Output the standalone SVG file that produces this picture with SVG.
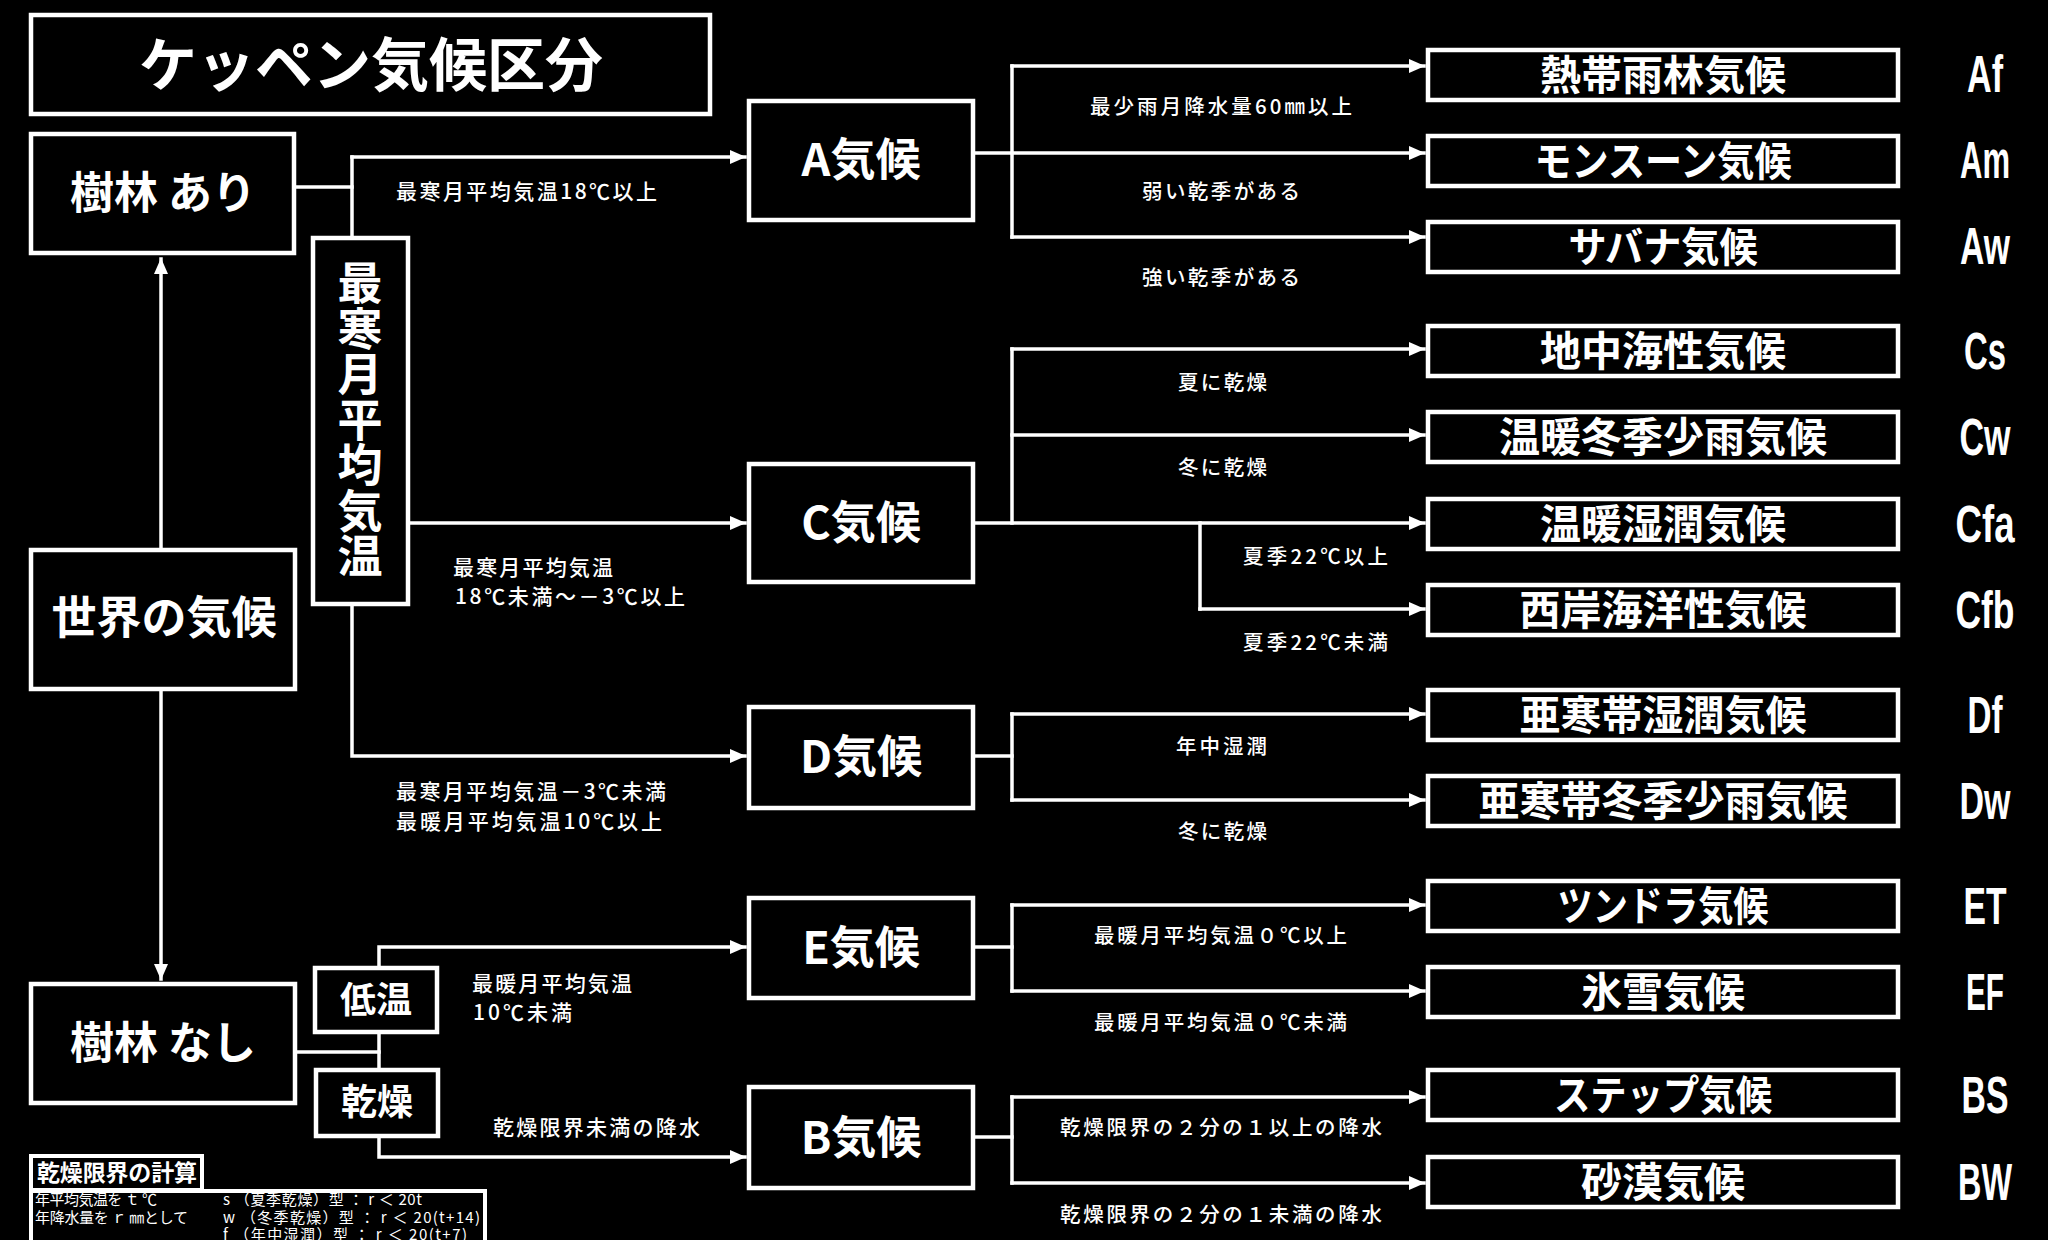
<svg xmlns="http://www.w3.org/2000/svg" width="2048" height="1240" viewBox="0 0 2048 1240">
<style>
.bx{fill:#000;stroke:#fff;stroke-width:4.5}
.bs{fill:#000;stroke:#fff;stroke-width:4}
.cn{fill:none;stroke:#fff;stroke-width:3.5;stroke-linecap:square;stroke-linejoin:miter}
.jp{font-family:'Noto Sans CJK JP','Noto Sans CJK SC',sans-serif;fill:#fff}
.nb{font-weight:700;text-anchor:middle}
.lbl{font-size:20.5px;font-weight:500}
.lb2{font-size:21px;font-weight:500}
.code{font-family:'Liberation Sans',Arial,sans-serif;font-weight:700;font-size:51px;fill:#fff;text-anchor:middle}
.sm{font-size:15px}
</style>
<defs>
<marker id="ah" viewBox="0 0 16 14" refX="15" refY="7" markerWidth="16" markerHeight="14" markerUnits="userSpaceOnUse" orient="auto">
<path d="M0,0 L16,7 L0,14 z" fill="#fff"/>
</marker>
</defs>
<rect x="0" y="0" width="2048" height="1240" fill="#000"/>

<g id="connectors">
<line class="cn" x1="296" y1="187" x2="352" y2="187"/>
<line class="cn" x1="352" y1="157" x2="352" y2="238"/>
<line class="cn" x1="352" y1="157" x2="745" y2="157" marker-end="url(#ah)"/>
<line class="cn" x1="409" y1="523" x2="745" y2="523" marker-end="url(#ah)"/>
<polyline class="cn" points="352,604 352,756 745,756" marker-end="url(#ah)"/>
<line class="cn" x1="161" y1="548" x2="161" y2="259" marker-end="url(#ah)"/>
<line class="cn" x1="161" y1="690" x2="161" y2="979" marker-end="url(#ah)"/>
<line class="cn" x1="296" y1="1052" x2="379" y2="1052"/>
<line class="cn" x1="379" y1="1033" x2="379" y2="1068"/>
<polyline class="cn" points="379,966 379,947 745,947" marker-end="url(#ah)"/>
<polyline class="cn" points="379,1137 379,1157 745,1157" marker-end="url(#ah)"/>

<line class="cn" x1="974" y1="153" x2="1424" y2="153" marker-end="url(#ah)"/>
<line class="cn" x1="1012" y1="66" x2="1012" y2="237"/>
<line class="cn" x1="1012" y1="66" x2="1424" y2="66" marker-end="url(#ah)"/>
<line class="cn" x1="1012" y1="237" x2="1424" y2="237" marker-end="url(#ah)"/>

<line class="cn" x1="1012" y1="349" x2="1012" y2="523"/>
<line class="cn" x1="1012" y1="349" x2="1424" y2="349" marker-end="url(#ah)"/>
<line class="cn" x1="1012" y1="435" x2="1424" y2="435" marker-end="url(#ah)"/>
<line class="cn" x1="974" y1="523" x2="1424" y2="523" marker-end="url(#ah)"/>
<line class="cn" x1="1200" y1="523" x2="1200" y2="609"/>
<line class="cn" x1="1200" y1="609" x2="1424" y2="609" marker-end="url(#ah)"/>

<line class="cn" x1="974" y1="756" x2="1012" y2="756"/>
<line class="cn" x1="1012" y1="714" x2="1012" y2="800"/>
<line class="cn" x1="1012" y1="714" x2="1424" y2="714" marker-end="url(#ah)"/>
<line class="cn" x1="1012" y1="800" x2="1424" y2="800" marker-end="url(#ah)"/>

<line class="cn" x1="974" y1="947" x2="1012" y2="947"/>
<line class="cn" x1="1012" y1="905" x2="1012" y2="991"/>
<line class="cn" x1="1012" y1="905" x2="1424" y2="905" marker-end="url(#ah)"/>
<line class="cn" x1="1012" y1="991" x2="1424" y2="991" marker-end="url(#ah)"/>

<line class="cn" x1="974" y1="1137" x2="1012" y2="1137"/>
<line class="cn" x1="1012" y1="1097" x2="1012" y2="1183"/>
<line class="cn" x1="1012" y1="1097" x2="1424" y2="1097" marker-end="url(#ah)"/>
<line class="cn" x1="1012" y1="1183" x2="1424" y2="1183" marker-end="url(#ah)"/>
</g>

<g id="labels" class="jp">
<text class="lb2" x="396" y="199" textLength="261">最寒月平均気温18℃以上</text>
<text class="lb2" x="453" y="575" textLength="160">最寒月平均気温</text>
<text class="lb2" x="455" y="604" textLength="230">18℃未満～－3℃以上</text>
<text class="lb2" x="396" y="799" textLength="270">最寒月平均気温－3℃未満</text>
<text class="lb2" x="396" y="829" textLength="266">最暖月平均気温10℃以上</text>
<text class="lb2" x="472" y="991" textLength="160">最暖月平均気温</text>
<text class="lb2" x="473" y="1020" textLength="99">10℃未満</text>
<text class="lb2" x="493" y="1135" textLength="207">乾燥限界未満の降水</text>

<text class="lbl" x="1090" y="114" textLength="262">最少雨月降水量60㎜以上</text>
<text class="lbl" x="1142" y="199" textLength="158">弱い乾季がある</text>
<text class="lbl" x="1142" y="285" textLength="158">強い乾季がある</text>
<text class="lbl" x="1178" y="390" textLength="89">夏に乾燥</text>
<text class="lbl" x="1178" y="475" textLength="89">冬に乾燥</text>
<text class="lbl" x="1243" y="564" textLength="145">夏季22℃以上</text>
<text class="lbl" x="1243" y="650" textLength="145">夏季22℃未満</text>
<text class="lbl" x="1176" y="754" textLength="91">年中湿潤</text>
<text class="lbl" x="1178" y="839" textLength="89">冬に乾燥</text>
<text class="lbl" x="1094" y="943" textLength="253">最暖月平均気温０℃以上</text>
<text class="lbl" x="1094" y="1030" textLength="253">最暖月平均気温０℃未満</text>
<text class="lbl" x="1060" y="1135" textLength="322">乾燥限界の２分の１以上の降水</text>
<text class="lbl" x="1060" y="1222" textLength="322">乾燥限界の２分の１未満の降水</text>
</g>

<g id="title">
<rect class="bx" x="31" y="15" width="679" height="99"/>
<text class="jp nb" x="371" y="86" font-size="58">ケッペン気候区分</text>
</g>
<g id="node-jurin-ari">
<rect class="bx" x="31" y="134" width="263" height="119"/>
<text class="jp nb" x="163" y="209" font-size="44">樹林 あり</text>
</g>
<g id="node-sekai">
<rect class="bx" x="31" y="550" width="264" height="139"/>
<text class="jp nb" x="164" y="634" font-size="45">世界の気候</text>
</g>
<g id="node-jurin-nashi">
<rect class="bx" x="31" y="984" width="264" height="119"/>
<text class="jp nb" x="163" y="1059" font-size="44">樹林 なし</text>
</g>
<g id="node-saikan">
<rect class="bx" x="313" y="238" width="95" height="366"/>
<text class="jp" x="360" y="420" font-size="45" font-weight="700" writing-mode="vertical-rl" text-anchor="middle" letter-spacing="0.5">最寒月平均気温</text>
</g>
<g id="node-teion">
<rect class="bx" x="315" y="968" width="122" height="64"/>
<text class="jp nb" x="376" y="1013" font-size="36">低温</text>
</g>
<g id="node-kanso">
<rect class="bx" x="316" y="1070" width="122" height="66"/>
<text class="jp nb" x="377" y="1115" font-size="36">乾燥</text>
</g>

<g id="node-A"><rect class="bx" x="749" y="101" width="224" height="119"/><text class="jp nb" x="861" y="176" font-size="45">A気候</text></g>
<g id="node-C"><rect class="bx" x="749" y="464" width="224" height="118"/><text class="jp nb" x="861" y="539" font-size="45">C気候</text></g>
<g id="node-D"><rect class="bx" x="749" y="707" width="224" height="101"/><text class="jp nb" x="861" y="773" font-size="45">D気候</text></g>
<g id="node-E"><rect class="bx" x="749" y="898" width="224" height="100"/><text class="jp nb" x="861" y="964" font-size="45">E気候</text></g>
<g id="node-B"><rect class="bx" x="749" y="1087" width="224" height="101"/><text class="jp nb" x="861" y="1154" font-size="45">B気候</text></g>

<g id="node-Af"><rect class="bx" x="1428" y="50" width="470" height="50"/><text class="jp nb" x="1663" y="90" font-size="41">熱帯雨林気候</text><text class="code" x="1985" y="92" textLength="36" lengthAdjust="spacingAndGlyphs">Af</text></g>
<g id="node-Am"><rect class="bx" x="1428" y="136" width="470" height="50"/><text class="jp nb" x="1663" y="176" font-size="41" textLength="257" lengthAdjust="spacingAndGlyphs">モンスーン気候</text><text class="code" x="1985" y="178" textLength="50" lengthAdjust="spacingAndGlyphs">Am</text></g>
<g id="node-Aw"><rect class="bx" x="1428" y="222" width="470" height="50"/><text class="jp nb" x="1663" y="262" font-size="41" textLength="189" lengthAdjust="spacingAndGlyphs">サバナ気候</text><text class="code" x="1985" y="264" textLength="50" lengthAdjust="spacingAndGlyphs">Aw</text></g>

<g id="node-Cs"><rect class="bx" x="1428" y="326" width="470" height="50"/><text class="jp nb" x="1663" y="366" font-size="41">地中海性気候</text><text class="code" x="1985" y="369" textLength="42" lengthAdjust="spacingAndGlyphs">Cs</text></g>
<g id="node-Cw"><rect class="bx" x="1428" y="412" width="470" height="50"/><text class="jp nb" x="1663" y="452" font-size="41">温暖冬季少雨気候</text><text class="code" x="1985" y="455" textLength="51" lengthAdjust="spacingAndGlyphs">Cw</text></g>
<g id="node-Cfa"><rect class="bx" x="1428" y="499" width="470" height="50"/><text class="jp nb" x="1663" y="539" font-size="41">温暖湿潤気候</text><text class="code" x="1985" y="542" textLength="59" lengthAdjust="spacingAndGlyphs">Cfa</text></g>
<g id="node-Cfb"><rect class="bx" x="1428" y="585" width="470" height="50"/><text class="jp nb" x="1663" y="625" font-size="41">西岸海洋性気候</text><text class="code" x="1985" y="628" textLength="59" lengthAdjust="spacingAndGlyphs">Cfb</text></g>

<g id="node-Df"><rect class="bx" x="1428" y="690" width="470" height="50"/><text class="jp nb" x="1663" y="730" font-size="41">亜寒帯湿潤気候</text><text class="code" x="1985" y="733" textLength="35" lengthAdjust="spacingAndGlyphs">Df</text></g>
<g id="node-Dw"><rect class="bx" x="1428" y="776" width="470" height="50"/><text class="jp nb" x="1663" y="816" font-size="41">亜寒帯冬季少雨気候</text><text class="code" x="1985" y="819" textLength="51" lengthAdjust="spacingAndGlyphs">Dw</text></g>

<g id="node-ET"><rect class="bx" x="1428" y="881" width="470" height="50"/><text class="jp nb" x="1663" y="921" font-size="41" textLength="211" lengthAdjust="spacingAndGlyphs">ツンドラ気候</text><text class="code" x="1985" y="924" textLength="43" lengthAdjust="spacingAndGlyphs">ET</text></g>
<g id="node-EF"><rect class="bx" x="1428" y="967" width="470" height="50"/><text class="jp nb" x="1663" y="1007" font-size="41">氷雪気候</text><text class="code" x="1985" y="1010" textLength="38" lengthAdjust="spacingAndGlyphs">EF</text></g>

<g id="node-BS"><rect class="bx" x="1428" y="1070" width="470" height="50"/><text class="jp nb" x="1663" y="1110" font-size="41" textLength="218" lengthAdjust="spacingAndGlyphs">ステップ気候</text><text class="code" x="1985" y="1113" textLength="47" lengthAdjust="spacingAndGlyphs">BS</text></g>
<g id="node-BW"><rect class="bx" x="1428" y="1157" width="470" height="50"/><text class="jp nb" x="1663" y="1197" font-size="41">砂漠気候</text><text class="code" x="1985" y="1200" textLength="54" lengthAdjust="spacingAndGlyphs">BW</text></g>

<g id="dry-limit">
<rect class="bs" x="31" y="1191" width="454" height="100"/>
<rect class="bs" x="31" y="1156" width="171" height="34"/>
<text class="jp" x="37" y="1181" font-size="23" font-weight="700" textLength="160">乾燥限界の計算</text>
<text class="jp sm" x="35" y="1205" textLength="122">年平均気温を ｔ ℃</text>
<text class="jp sm" x="35" y="1223" textLength="153">年降水量を ｒ ㎜として</text>
<text class="jp sm" x="223" y="1205" textLength="199">s （夏季乾燥）型 ： r ＜ 20t</text>
<text class="jp sm" x="223" y="1223" textLength="257">w （冬季乾燥）型 ： r ＜ 20(t+14)</text>
<text class="jp sm" x="223" y="1240" textLength="244">f （年中湿潤）型 ： r ＜ 20(t+7)</text>
</g>
</svg>
